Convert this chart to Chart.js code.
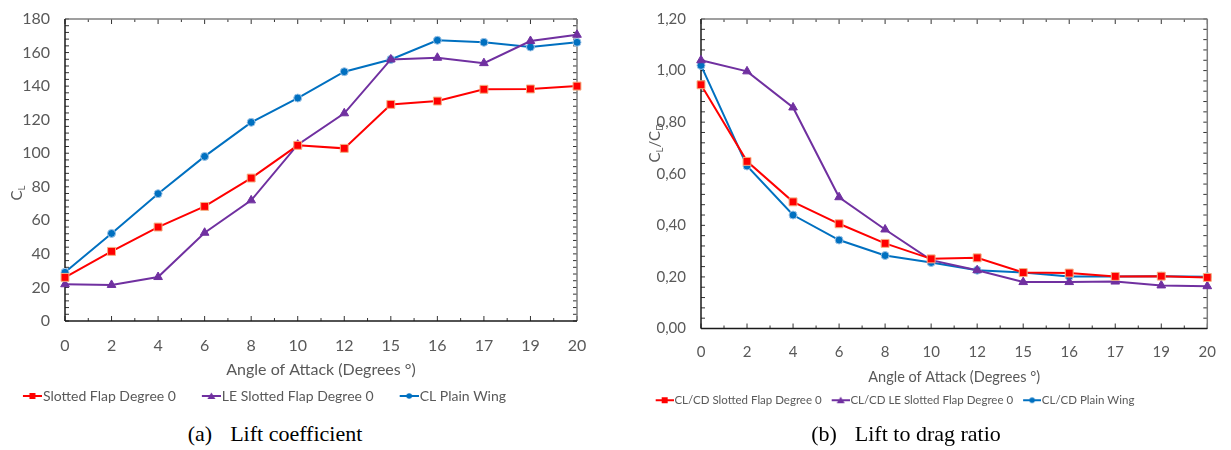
<!DOCTYPE html>
<html>
<head>
<meta charset="utf-8">
<script src="https://cdn.jsdelivr.net/npm/chart.js@4.4.1/dist/chart.umd.min.js"></script>
<style>
  html, body { margin: 0; padding: 0; background: #fff; }
  #wrap { position: relative; width: 1231px; height: 450px; overflow: hidden; }
  .panel { position: absolute; top: 0; }
  #p1 { left: -64px; width: 676px; height: 413px; }
  #p2 { left: 573px; width: 658px; height: 416px; }
  .cap { position: absolute; top: 421px; width: 400px; text-align: center;
         font-family: "Liberation Serif", "DejaVu Serif", serif; font-size: 22px; color: #000; }
  .cap .lab { margin-right: 18px; }
</style>
</head>
<body>
<div id="wrap">
  <div class="panel" id="p1"><canvas id="c1"></canvas></div>
  <div class="panel" id="p2"><canvas id="c2"></canvas></div>
  <div class="cap" style="left:75px"><span class="lab">(a)</span>Lift coefficient</div>
  <div class="cap" style="left:706px"><span class="lab">(b)</span>Lift to drag ratio</div>
</div>
<script>
// angle of attack categories (degrees)
const angles = ["0", "2", "4", "6", "8", "10", "12", "15", "16", "17", "19", "20"];

// (a) lift coefficient
const liftLabels = ["Slotted Flap Degree 0", "LE Slotted Flap Degree 0", "CL Plain Wing"];
const clSlotted = [26.0, 41.5, 56.0, 68.3, 85.2, 104.7, 102.9, 129.1, 131.1, 138.1, 138.3, 140.0];
const clLeSlotted = [21.9, 21.5, 26.2, 52.6, 71.9, 105.1, 123.8, 155.9, 156.9, 153.7, 166.9, 170.6];
const clPlain = [29.0, 52.2, 75.9, 98.1, 118.4, 132.9, 148.6, 155.9, 167.3, 166.1, 163.3, 166.1];

// (b) lift to drag ratio
const ratioLabels = ["CL/CD Slotted Flap Degree 0", "CL/CD LE Slotted Flap Degree 0", "CL/CD Plain Wing"];
const ldSlotted = [0.945, 0.648, 0.491, 0.406, 0.330, 0.270, 0.274, 0.217, 0.215, 0.202, 0.203, 0.198];
const ldLeSlotted = [1.040, 0.997, 0.857, 0.509, 0.384, 0.265, 0.226, 0.180, 0.180, 0.182, 0.167, 0.164];
const ldPlain = [1.020, 0.630, 0.440, 0.343, 0.283, 0.256, 0.226, 0.217, 0.202, 0.202, 0.203, 0.201];

const FONT = "Lato, 'Open Sans', sans-serif";
const GREY = "#595959";

const looks = [
  { color: "#ff0000", edge: "#f4b183", style: "rect", radius: 5.6 },
  { color: "#7030a0", edge: "#7030a0", style: "triangle", radius: 5 },
  { color: "#0070c0", edge: "#9dc3e6", style: "circle", radius: 4 },
];

// legend swatch: line with the marker in the middle, pushed to the right end
function swatch(look, w, len) {
  const c = document.createElement("canvas");
  c.width = w;
  c.height = 10;
  const g = c.getContext("2d");
  const x0 = w - len;
  const mid = x0 + len / 2;
  g.strokeStyle = look.color;
  g.lineWidth = 2;
  g.beginPath();
  g.moveTo(x0, 5);
  g.lineTo(w, 5);
  g.stroke();
  g.fillStyle = look.color;
  g.beginPath();
  if (look.style === "rect") g.rect(mid - 3, 2, 6, 6);
  else if (look.style === "triangle") { g.moveTo(mid, 1.5); g.lineTo(mid + 4, 8); g.lineTo(mid - 4, 8); g.closePath(); }
  else g.arc(mid, 5, 2.8, 0, Math.PI * 2);
  g.fill();
  return c;
}

// box round the plot with inward tick marks, drawn from the scales
const frameTicks = {
  id: "frameTicks",
  beforeDatasetsDraw(chart, args, opts) {
    const { ctx, chartArea: a } = chart;
    const xs = chart.scales.x;
    const ys = chart.scales.y;
    const line = (x1, y1, x2, y2) => { ctx.beginPath(); ctx.moveTo(x1, y1); ctx.lineTo(x2, y2); ctx.stroke(); };
    ctx.save();
    ctx.lineWidth = 1;
    ctx.strokeStyle = "#333";
    const n = xs.ticks.length;
    for (let i = 0; i < n; i++) {
      const px = xs.getPixelForTick(i);
      line(px, a.bottom, px, a.bottom - 5);
      line(px, a.top, px, a.top + 5);
      if (i < n - 1) {
        const mx = (px + xs.getPixelForTick(i + 1)) / 2;
        line(mx, a.bottom, mx, a.bottom - 3);
        line(mx, a.top, mx, a.top + 3);
      }
    }
    const steps = Math.round((ys.max - ys.min) / opts.minor);
    for (let k = 0; k <= steps; k++) {
      const py = ys.getPixelForValue(ys.min + k * opts.minor);
      line(a.left, py, a.left + 4, py);
      line(a.right, py, a.right - 4, py);
    }
    ctx.strokeStyle = "#7f7f7f";
    ctx.lineWidth = 1.5;
    line(a.left, a.top, a.right, a.top);
    line(a.right, a.top, a.right, a.bottom);
    ctx.strokeStyle = "#1a1a1a";
    line(a.left, a.top, a.left, a.bottom);
    line(a.left, a.bottom, a.right, a.bottom);
    ctx.restore();
  },
  afterDraw(chart, args, opts) {
    // rotated y title with subscripts
    const { ctx } = chart;
    ctx.save();
    ctx.translate(opts.titleX, opts.titleY);
    ctx.rotate(-Math.PI / 2);
    ctx.fillStyle = GREY;
    ctx.textBaseline = "alphabetic";
    let total = 0;
    const widths = opts.parts.map((p) => {
      ctx.font = (p.sub ? opts.size * 0.65 : opts.size) + "px " + FONT;
      const w = ctx.measureText(p.t).width;
      total += w;
      return w;
    });
    let x = -total / 2;
    opts.parts.forEach((p, i) => {
      ctx.font = (p.sub ? opts.size * 0.65 : opts.size) + "px " + FONT;
      ctx.fillText(p.t, x, p.sub ? opts.size * 0.55 : opts.size * 0.35);
      x += widths[i];
    });
    ctx.restore();
  },
};

function series(label, data, look) {
  return {
    label,
    data,
    borderColor: look.color,
    backgroundColor: look.color,
    borderWidth: 2,
    pointStyle: look.style,
    pointRadius: look.radius,
    pointBackgroundColor: look.color,
    pointBorderColor: look.edge,
    pointBorderWidth: 1,
    tension: 0,
    clip: false,
  };
}

function makeChart(el, cfg) {
  const swatchW = Math.round(cfg.boxW + cfg.legendSize - 2);
  return new Chart(el, {
    type: "line",
    data: {
      labels: angles,
      datasets: cfg.values.map((v, i) => series(cfg.labels[i], v, looks[i])),
    },
    options: {
      responsive: true,
      maintainAspectRatio: false,
      animation: false,
      layout: { padding: cfg.padding },
      plugins: {
        tooltip: { enabled: false },
        legend: {
          position: "bottom",
          labels: {
            color: GREY,
            font: { family: FONT, size: cfg.legendSize },
            usePointStyle: true,
            pointStyleWidth: cfg.boxW,
            padding: cfg.legendPad,
            generateLabels: (chart) =>
              chart.data.datasets.map((d, i) => ({
                text: d.label,
                pointStyle: swatch(looks[i], swatchW, cfg.swatchLen),
                fillStyle: looks[i].color,
                strokeStyle: looks[i].color,
                lineWidth: 0,
                fontColor: GREY,
                datasetIndex: i,
              })),
          },
        },
        frameTicks: { minor: cfg.minor, titleX: cfg.titleX, titleY: cfg.titleY, size: cfg.titleSize, parts: cfg.titleParts },
      },
      scales: {
        x: {
          offset: false,
          grid: { display: false, drawTicks: false },
          border: { display: false },
          ticks: { color: GREY, font: { family: FONT, size: cfg.tickSize }, padding: cfg.xTickPad, maxRotation: 0, autoSkip: false },
          title: {
            display: true,
            text: "Angle of Attack (Degrees \u00b0)",
            color: GREY,
            font: { family: FONT, size: cfg.axisTitleSize },
            padding: { top: 0, bottom: cfg.titlePadBottom },
          },
          afterFit: (s) => { s.height = cfg.xHeight; },
        },
        y: {
          min: cfg.min,
          max: cfg.max,
          grid: { display: false, drawTicks: false },
          border: { display: false },
          ticks: { stepSize: cfg.step, color: GREY, font: { family: FONT, size: cfg.tickSize }, padding: 15, callback: cfg.fmt },
          afterFit: (s) => { s.width = cfg.yWidth; s.paddingTop = 0; s.paddingBottom = 0; },
        },
      },
    },
    plugins: [frameTicks],
  });
}

makeChart(document.getElementById("c1"), {
  labels: liftLabels,
  values: [clSlotted, clLeSlotted, clPlain],
  min: 0, max: 180, step: 20, minor: 4,
  fmt: (v) => String(v),
  padding: { top: 19, right: 35, left: 0, bottom: 0 },
  yWidth: 129, xHeight: 58, xTickPad: 15, titlePadBottom: 0, tickSize: 16,
  axisTitleSize: 16, legendSize: 14, legendPad: 10, boxW: 29, swatchLen: 19,
  titleX: 81, titleY: 193, titleSize: 15,
  titleParts: [{ t: "C" }, { t: "L", sub: true }],
});

makeChart(document.getElementById("c2"), {
  labels: ratioLabels,
  values: [ldSlotted, ldLeSlotted, ldPlain],
  min: 0, max: 1.2, step: 0.2, minor: 0.04,
  fmt: (v) => v.toFixed(2).replace(".", ","),
  padding: { top: 19, right: 16, left: 0, bottom: 0 },
  yWidth: 128, xHeight: 58, xTickPad: 15, titlePadBottom: 0, tickSize: 15,
  axisTitleSize: 14.5, legendSize: 11.5, legendPad: 8, boxW: 15, swatchLen: 18,
  titleX: 82, titleY: 143, titleSize: 15,
  titleParts: [{ t: "C" }, { t: "L", sub: true }, { t: "/C" }, { t: "D", sub: true }],
});
</script>
</body>
</html>
